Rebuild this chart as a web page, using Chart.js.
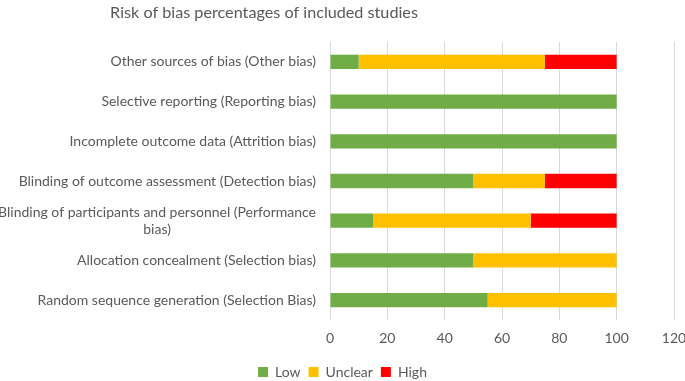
<!DOCTYPE html>
<html>
<head>
<meta charset="utf-8">
<script src="https://cdn.jsdelivr.net/npm/chart.js@4.4.0/dist/chart.umd.min.js"></script>
<style>
  html, body { margin: 0; padding: 0; background: #fff; }
</style>
</head>
<body>
<canvas id="riskChart" width="685" height="381"></canvas>
<script>
const titleText = 'Risk of bias percentages of included studies';
const categories = [
  ['Other sources of bias (Other bias)'],
  ['Selective reporting (Reporting bias)'],
  ['Incomplete outcome data (Attrition bias)'],
  ['Blinding of outcome assessment (Detection bias)'],
  ['Blinding of participants and personnel (Performance', 'bias)'],
  ['Allocation concealment (Selection bias)'],
  ['Random sequence generation (Selection Bias)']
];
const seriesNames = ['Low', 'Unclear', 'High'];
const lowValues = [10, 100, 100, 50, 15, 50, 55];
const unclearValues = [65, 0, 0, 25, 55, 50, 45];
const highValues = [25, 0, 0, 25, 30, 0, 0];
const xTicks = [0, 20, 40, 60, 80, 100, 120];

const textColor = '#595959';
const fontFamily = 'Lato, "Open Sans", sans-serif';

// title drawn by hand so it can sit left of centre like the original
const titlePlugin = {
  id: 'chartTitle',
  afterDraw(chart) {
    const ctx = chart.ctx;
    ctx.save();
    ctx.font = '16.2px ' + fontFamily;
    ctx.fillStyle = textColor;
    ctx.textAlign = 'center';
    ctx.textBaseline = 'middle';
    ctx.fillText(titleText, 264, 13);
    ctx.restore();
  }
};

// category labels: wrapped label is a centred block, others right aligned
const catLabelPlugin = {
  id: 'catLabels',
  afterDraw(chart) {
    const ctx = chart.ctx;
    const yScale = chart.scales.y;
    const right = yScale.right - 14;
    const lineH = 17;
    ctx.save();
    ctx.font = '14px ' + fontFamily;
    ctx.fillStyle = textColor;
    ctx.textBaseline = 'middle';
    categories.forEach((lines, i) => {
      const y = yScale.getPixelForValue(i);
      if (lines.length === 1) {
        ctx.textAlign = 'right';
        ctx.fillText(lines[0], right, y);
      } else {
        const widest = Math.max(...lines.map(l => ctx.measureText(l).width));
        const cx = right - widest / 2;
        const top = y - (lines.length - 1) * lineH / 2;
        ctx.textAlign = 'center';
        lines.forEach((l, j) => ctx.fillText(l, cx, top + j * lineH));
      }
    });
    ctx.restore();
  }
};

const ctx = document.getElementById('riskChart').getContext('2d');
const chart = new Chart(ctx, {
  type: 'bar',
  data: {
    labels: categories.map(c => c.join(' ')),
    datasets: [
      { label: seriesNames[0], data: lowValues, backgroundColor: '#70AD47' },
      { label: seriesNames[1], data: unclearValues, backgroundColor: '#FFC000' },
      { label: seriesNames[2], data: highValues, backgroundColor: '#FF0000' }
    ]
  },
  options: {
    indexAxis: 'y',
    responsive: false,
    animation: false,
    barPercentage: 0.36,
    categoryPercentage: 1,
    layout: { padding: { top: 42, right: 0, left: 0, bottom: -8 } },
    scales: {
      x: {
        stacked: true,
        min: 0,
        max: 120,
        afterBuildTicks: (scale) => { scale.ticks = xTicks.map(v => ({ value: v })); },
        afterFit: (scale) => {
          scale.height = 37;
          scale.paddingRight = 11; // half of the "120" label only
        },
        grid: { color: '#D9D9D9', lineWidth: 1, drawTicks: false },
        border: { display: false },
        ticks: {
          padding: 10,
          color: textColor,
          font: { family: fontFamily, size: 14 }
        }
      },
      y: {
        stacked: true,
        afterFit: (scale) => { scale.width = 330; },
        grid: { display: false },
        border: { display: false },
        ticks: { display: false }
      }
    },
    plugins: {
      title: { display: false },
      tooltip: { enabled: false },
      legend: {
        position: 'bottom',
        labels: {
          boxWidth: 10,
          boxHeight: 10,
          padding: 8,
          color: textColor,
          font: { family: fontFamily, size: 14 }
        }
      }
    }
  },
  plugins: [titlePlugin, catLabelPlugin]
});
</script>
</body>
</html>
